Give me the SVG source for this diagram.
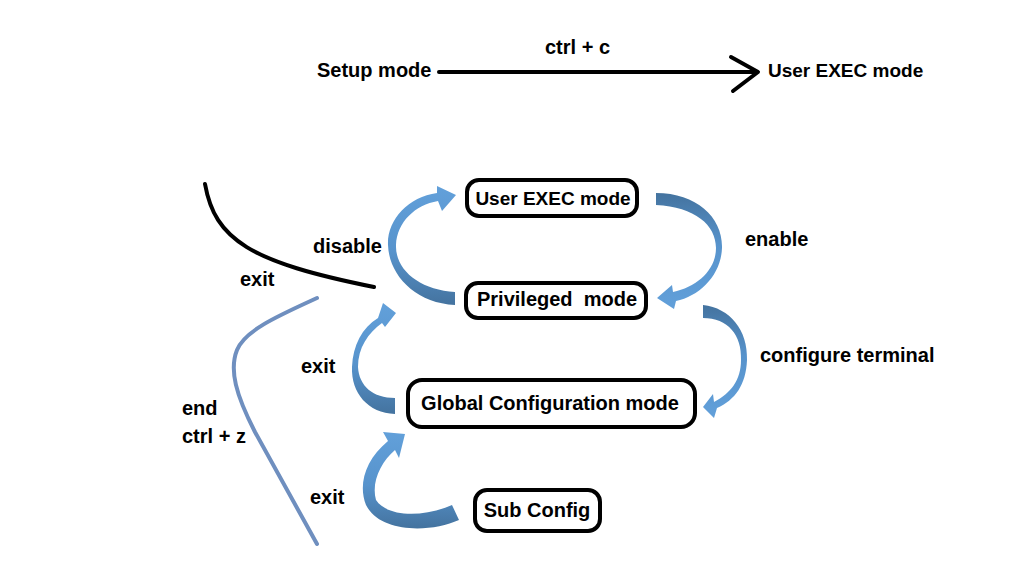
<svg xmlns="http://www.w3.org/2000/svg" width="1028" height="582" viewBox="0 0 1028 582">
<defs>
<linearGradient id="gUp" x1="0" y1="0" x2="0" y2="1">
<stop offset="0" stop-color="#62a0da"/>
<stop offset="0.55" stop-color="#5793cc"/>
<stop offset="1" stop-color="#44739f"/>
</linearGradient>
<linearGradient id="gDown" x1="0" y1="0" x2="0" y2="1">
<stop offset="0" stop-color="#44739f"/>
<stop offset="0.45" stop-color="#5793cc"/>
<stop offset="1" stop-color="#62a0da"/>
</linearGradient>
</defs>
<style>
text{font-family:"Liberation Sans",Arial,sans-serif;font-weight:bold;font-size:20px;fill:#000;white-space:pre}
.s19{font-size:19px}
.box{fill:#fff;stroke:#000;stroke-width:4}
.blk{fill:none;stroke:#000;stroke-width:4;stroke-linecap:round;stroke-linejoin:round}
</style>
<rect width="1028" height="582" fill="#fff"/>

<g id="connectors">
<g id="setup-to-user">
<path class="blk" d="M439 72 L756 72"/>
<path class="blk" d="M731 57 L758 72 L733 91"/>
<text x="545" y="54">ctrl + c</text>
</g>
<path id="disable-arrow" fill="url(#gUp)" d="M455 292 C420 290 395 270 396 245 C397 222 415 205 438 201 L442 211 L456 195 L437 186 L437 193 C408 197 387 220 388 245 C389 275 415 303 455 305 Z"/>
<path id="enable-arrow" fill="url(#gDown)" d="M656 193 C697 193 723 218 722 248 C721 275 700 296 676 301 L674 309 L657 298 L672 285 L673 292 C697 287 716 270 716 248 C716 225 695 207 656 205 Z"/>
<path id="configure-arrow" fill="url(#gDown)" d="M703 305 C730 308 748 330 747 360 C746 385 735 400 717 408 L714 418 L703 407 L713 394 L714 402 C731 393 741 380 741 360 C742 335 728 318 703 318 Z"/>
<path id="exit-global-arrow" fill="url(#gUp)" d="M395 414 C368 413 351 393 352 367 C353 345 362 328 378 318 L383 303 L396 313 L385 327 L382 323 C368 333 358 348 358 367 C359 386 373 398 395 398 Z"/>
<path id="exit-sub-arrow" fill="url(#gUp)" d="M459 520 C430 533 380 533 366 505 C358 485 365 460 388 441 L383 432 L405 434 L399 458 L395 450 C381 462 371 482 376 500 C388 518 425 517 452 505 Z"/>
<path id="exit-black" class="blk" d="M205 184 C215 240 250 262 374 287"/>
<path id="end-line" fill="none" stroke="#6f8fbf" stroke-width="4" stroke-linecap="round" d="M317 298 C280 315 245 330 237 350 C229 370 236 395 255 432 L317 544"/>
<text x="313" y="253">disable</text>
<text x="745" y="246">enable</text>
<text x="240" y="286">exit</text>
<text x="301" y="373">exit</text>
<text x="760" y="362">configure terminal</text>
<text x="182" y="415">end</text>
<text x="182" y="443">ctrl + z</text>
<text x="310" y="504">exit</text>
</g>

<g id="setup-mode"><text x="317" y="77">Setup mode</text></g>
<g id="user-exec-top"><text class="s19" x="768" y="77">User EXEC mode</text></g>

<g id="user-exec">
<rect class="box" x="467" y="180" width="170" height="36" rx="12"/>
<text class="s19" x="553" y="205" text-anchor="middle">User EXEC mode</text>
</g>
<g id="privileged">
<rect class="box" x="466" y="283" width="180" height="35" rx="12"/>
<text x="557" y="306" text-anchor="middle">Privileged  mode</text>
</g>
<g id="global-config">
<rect class="box" x="408" y="380" width="287" height="47" rx="14"/>
<text x="550" y="410" text-anchor="middle">Global Configuration mode</text>
</g>
<g id="sub-config">
<rect class="box" x="475" y="490" width="125" height="41" rx="12"/>
<text x="537" y="517" text-anchor="middle">Sub Config</text>
</g>
</svg>
